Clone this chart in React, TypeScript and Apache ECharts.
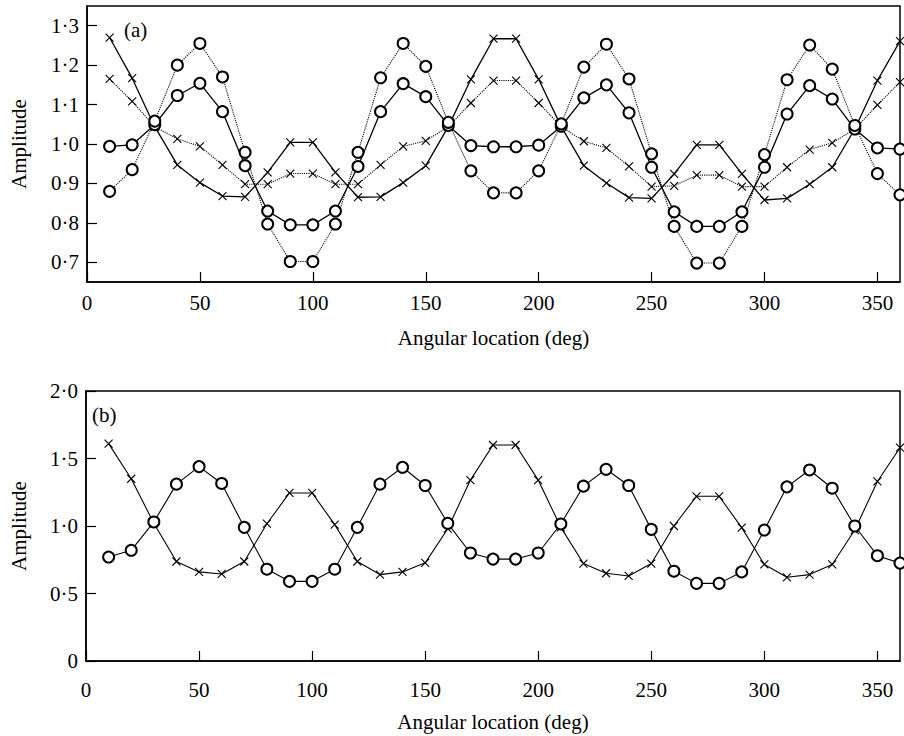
import React, { useEffect, useRef } from 'react';
import * as echarts from 'echarts';

const angles = [10, 20, 30, 40, 50, 60, 70, 80, 90, 100, 110, 120, 130, 140, 150, 160, 170, 180,
  190, 200, 210, 220, 230, 240, 250, 260, 270, 280, 290, 300, 310, 320, 330, 340, 350, 360];

// Panel (a)
const aSolidCross = [1.27, 1.167, 1.044, 0.947, 0.902, 0.868, 0.866, 0.928, 1.004, 1.004, 0.928, 0.865,
  0.866, 0.902, 0.945, 1.044, 1.164, 1.267, 1.267, 1.164, 1.044, 0.945, 0.901, 0.864, 0.862, 0.924,
  0.998, 0.998, 0.924, 0.858, 0.862, 0.898, 0.941, 1.038, 1.161, 1.261];
const aDottedCross = [1.165, 1.108, 1.044, 1.013, 0.994, 0.947, 0.898, 0.898, 0.925, 0.925, 0.898, 0.898,
  0.947, 0.994, 1.008, 1.044, 1.104, 1.161, 1.161, 1.104, 1.044, 1.007, 0.99, 0.943, 0.892, 0.894,
  0.921, 0.921, 0.892, 0.892, 0.941, 0.986, 1.003, 1.038, 1.099, 1.157];
const aSolidCircle = [0.994, 0.998, 1.049, 1.123, 1.154, 1.082, 0.945, 0.83, 0.795, 0.795, 0.83, 0.943,
  1.082, 1.153, 1.12, 1.047, 0.996, 0.993, 0.993, 0.997, 1.045, 1.117, 1.15, 1.079, 0.941, 0.828,
  0.791, 0.791, 0.828, 0.941, 1.076, 1.148, 1.114, 1.038, 0.99, 0.987];
const aDottedCircle = [0.88, 0.935, 1.058, 1.2, 1.255, 1.17, 0.979, 0.797, 0.702, 0.702, 0.797, 0.979,
  1.168, 1.255, 1.197, 1.055, 0.932, 0.876, 0.876, 0.932, 1.051, 1.195, 1.253, 1.165, 0.975, 0.791,
  0.698, 0.698, 0.791, 0.973, 1.163, 1.251, 1.19, 1.047, 0.925, 0.871];

// Panel (b)
const bCross = [1.61, 1.35, 1.02, 0.737, 0.66, 0.645, 0.737, 1.017, 1.245, 1.245, 1.01, 0.737,
  0.64, 0.66, 0.727, 0.98, 1.34, 1.6, 1.6, 1.34, 0.99, 0.722, 0.65, 0.63, 0.722, 1.0,
  1.22, 1.22, 0.988, 0.715, 0.62, 0.64, 0.715, 0.97, 1.33, 1.58];
const bCircle = [0.77, 0.82, 1.03, 1.31, 1.44, 1.315, 0.99, 0.68, 0.59, 0.59, 0.68, 0.99,
  1.31, 1.435, 1.3, 1.02, 0.8, 0.755, 0.755, 0.8, 1.015, 1.295, 1.42, 1.3, 0.975, 0.665,
  0.575, 0.575, 0.66, 0.97, 1.29, 1.415, 1.28, 1.0, 0.78, 0.725];

const xTickLabels = [0, 50, 100, 150, 200, 250, 300, 350];
const aYLabels = [0.65, 0.7, 0.8, 0.9, 1.0, 1.1, 1.2, 1.3];
const aYTicks = [0.7, 0.8, 0.9, 1.0, 1.1, 1.2, 1.3];

const FONT = '"Liberation Serif", "Times New Roman", serif';
const FS = 21;
const CROSS = 'path://M0,0L10,10M10,0L0,10';

const fmt = (v: number) => (Math.abs(v) < 1e-9 || Math.abs(v - 0.65) < 1e-9 ? '0' : v.toFixed(1).replace('.', '·'));

function pts(vals: number[]) {
  return angles.map((a, i) => [a, vals[i]]);
}

export default function App() {
  const ref = useRef<HTMLDivElement>(null);
  useEffect(() => {
    if (!ref.current) return;
    const chart = echarts.init(ref.current, null, { renderer: 'svg' });
    const axisText = { color: '#000', fontFamily: FONT, fontSize: FS };
    const xAxisBase = (gridIndex: number, margin: number, nameGap: number) => ({
      type: 'value',
      gridIndex,
      min: 0,
      max: 360,
      name: 'Angular location (deg)',
      nameLocation: 'middle',
      nameGap,
      nameTextStyle: { ...axisText },
      axisLine: { show: true, lineStyle: { color: '#000', width: 1.5 } },
      axisTick: { show: true, inside: true, length: 10, customValues: xTickLabels, lineStyle: { color: '#000', width: 1.2 } },
      axisLabel: { ...axisText, margin, customValues: xTickLabels },
      splitLine: { show: false },
    });
    const crossSeries = (name: string, vals: number[], xi: number, dotted: boolean, w: number) => ({
      name,
      type: 'line',
      xAxisIndex: xi,
      yAxisIndex: xi,
      data: pts(vals),
      symbol: CROSS,
      symbolSize: 8,
      showAllSymbol: true,
      lineStyle: { color: '#000', width: w, type: dotted ? 'dotted' : 'solid' },
      itemStyle: { color: 'rgba(0,0,0,0)', borderColor: '#000', borderWidth: 1.1 },
    });
    const circleSeries = (name: string, vals: number[], xi: number, dotted: boolean, w: number, bw: number) => ({
      name,
      type: 'line',
      xAxisIndex: xi,
      yAxisIndex: xi,
      data: pts(vals),
      symbol: 'emptyCircle',
      symbolSize: 11,
      showAllSymbol: true,
      lineStyle: { color: '#000', width: w, type: dotted ? 'dotted' : 'solid' },
      itemStyle: { color: '#000', borderColor: '#000', borderWidth: bw },
    });
    chart.setOption({
      animation: false,
      backgroundColor: '#fff',
      grid: [
        { left: 82, top: 6, right: 4, height: 276, show: true, borderColor: '#000', borderWidth: 1.5 },
        { left: 81, top: 391, right: 4, height: 270, show: true, borderColor: '#000', borderWidth: 1.5 },
      ],
      xAxis: [xAxisBase(0, 10, 45), xAxisBase(1, 18, 50)],
      yAxis: [
        {
          type: 'value',
          gridIndex: 0,
          min: 0.65,
          max: 1.35,
          name: 'Amplitude',
          nameLocation: 'middle',
          nameGap: 58,
          nameRotate: 90,
          nameTextStyle: { ...axisText },
          axisLine: { show: true, lineStyle: { color: '#000', width: 1.5 } },
          axisTick: { show: true, inside: true, length: 10, customValues: aYTicks, lineStyle: { color: '#000', width: 1.2 } },
          axisLabel: { ...axisText, margin: 8, customValues: aYLabels, formatter: fmt },
          splitLine: { show: false },
        },
        {
          type: 'value',
          gridIndex: 1,
          min: 0,
          max: 2,
          interval: 0.5,
          name: 'Amplitude',
          nameLocation: 'middle',
          nameGap: 57,
          nameRotate: 90,
          nameTextStyle: { ...axisText },
          axisLine: { show: true, lineStyle: { color: '#000', width: 1.5 } },
          axisTick: { show: true, inside: true, length: 10, lineStyle: { color: '#000', width: 1.2 } },
          axisLabel: { ...axisText, margin: 8, formatter: fmt },
          splitLine: { show: false },
        },
      ],
      graphic: [
        { type: 'text', left: 124, top: 19, style: { text: '(a)', fill: '#000', font: `${FS}px ${FONT}` } },
        { type: 'text', left: 92, top: 404, style: { text: '(b)', fill: '#000', font: `${FS}px ${FONT}` } },
      ],
      series: [
        crossSeries('a solid cross', aSolidCross, 0, false, 1.3),
        crossSeries('a dotted cross', aDottedCross, 0, true, 1.1),
        circleSeries('a solid circle', aSolidCircle, 0, false, 1.3, 0.8),
        circleSeries('a dotted circle', aDottedCircle, 0, true, 1.1, 0.8),
        crossSeries('b cross', bCross, 1, false, 1.1),
        circleSeries('b circle', bCircle, 1, false, 1.1, 1.5),
      ],
    });
    return () => chart.dispose();
  }, []);
  return <div ref={ref} style={{ position: 'fixed', left: 0, top: 0, width: 904, height: 736 }} />;
}
